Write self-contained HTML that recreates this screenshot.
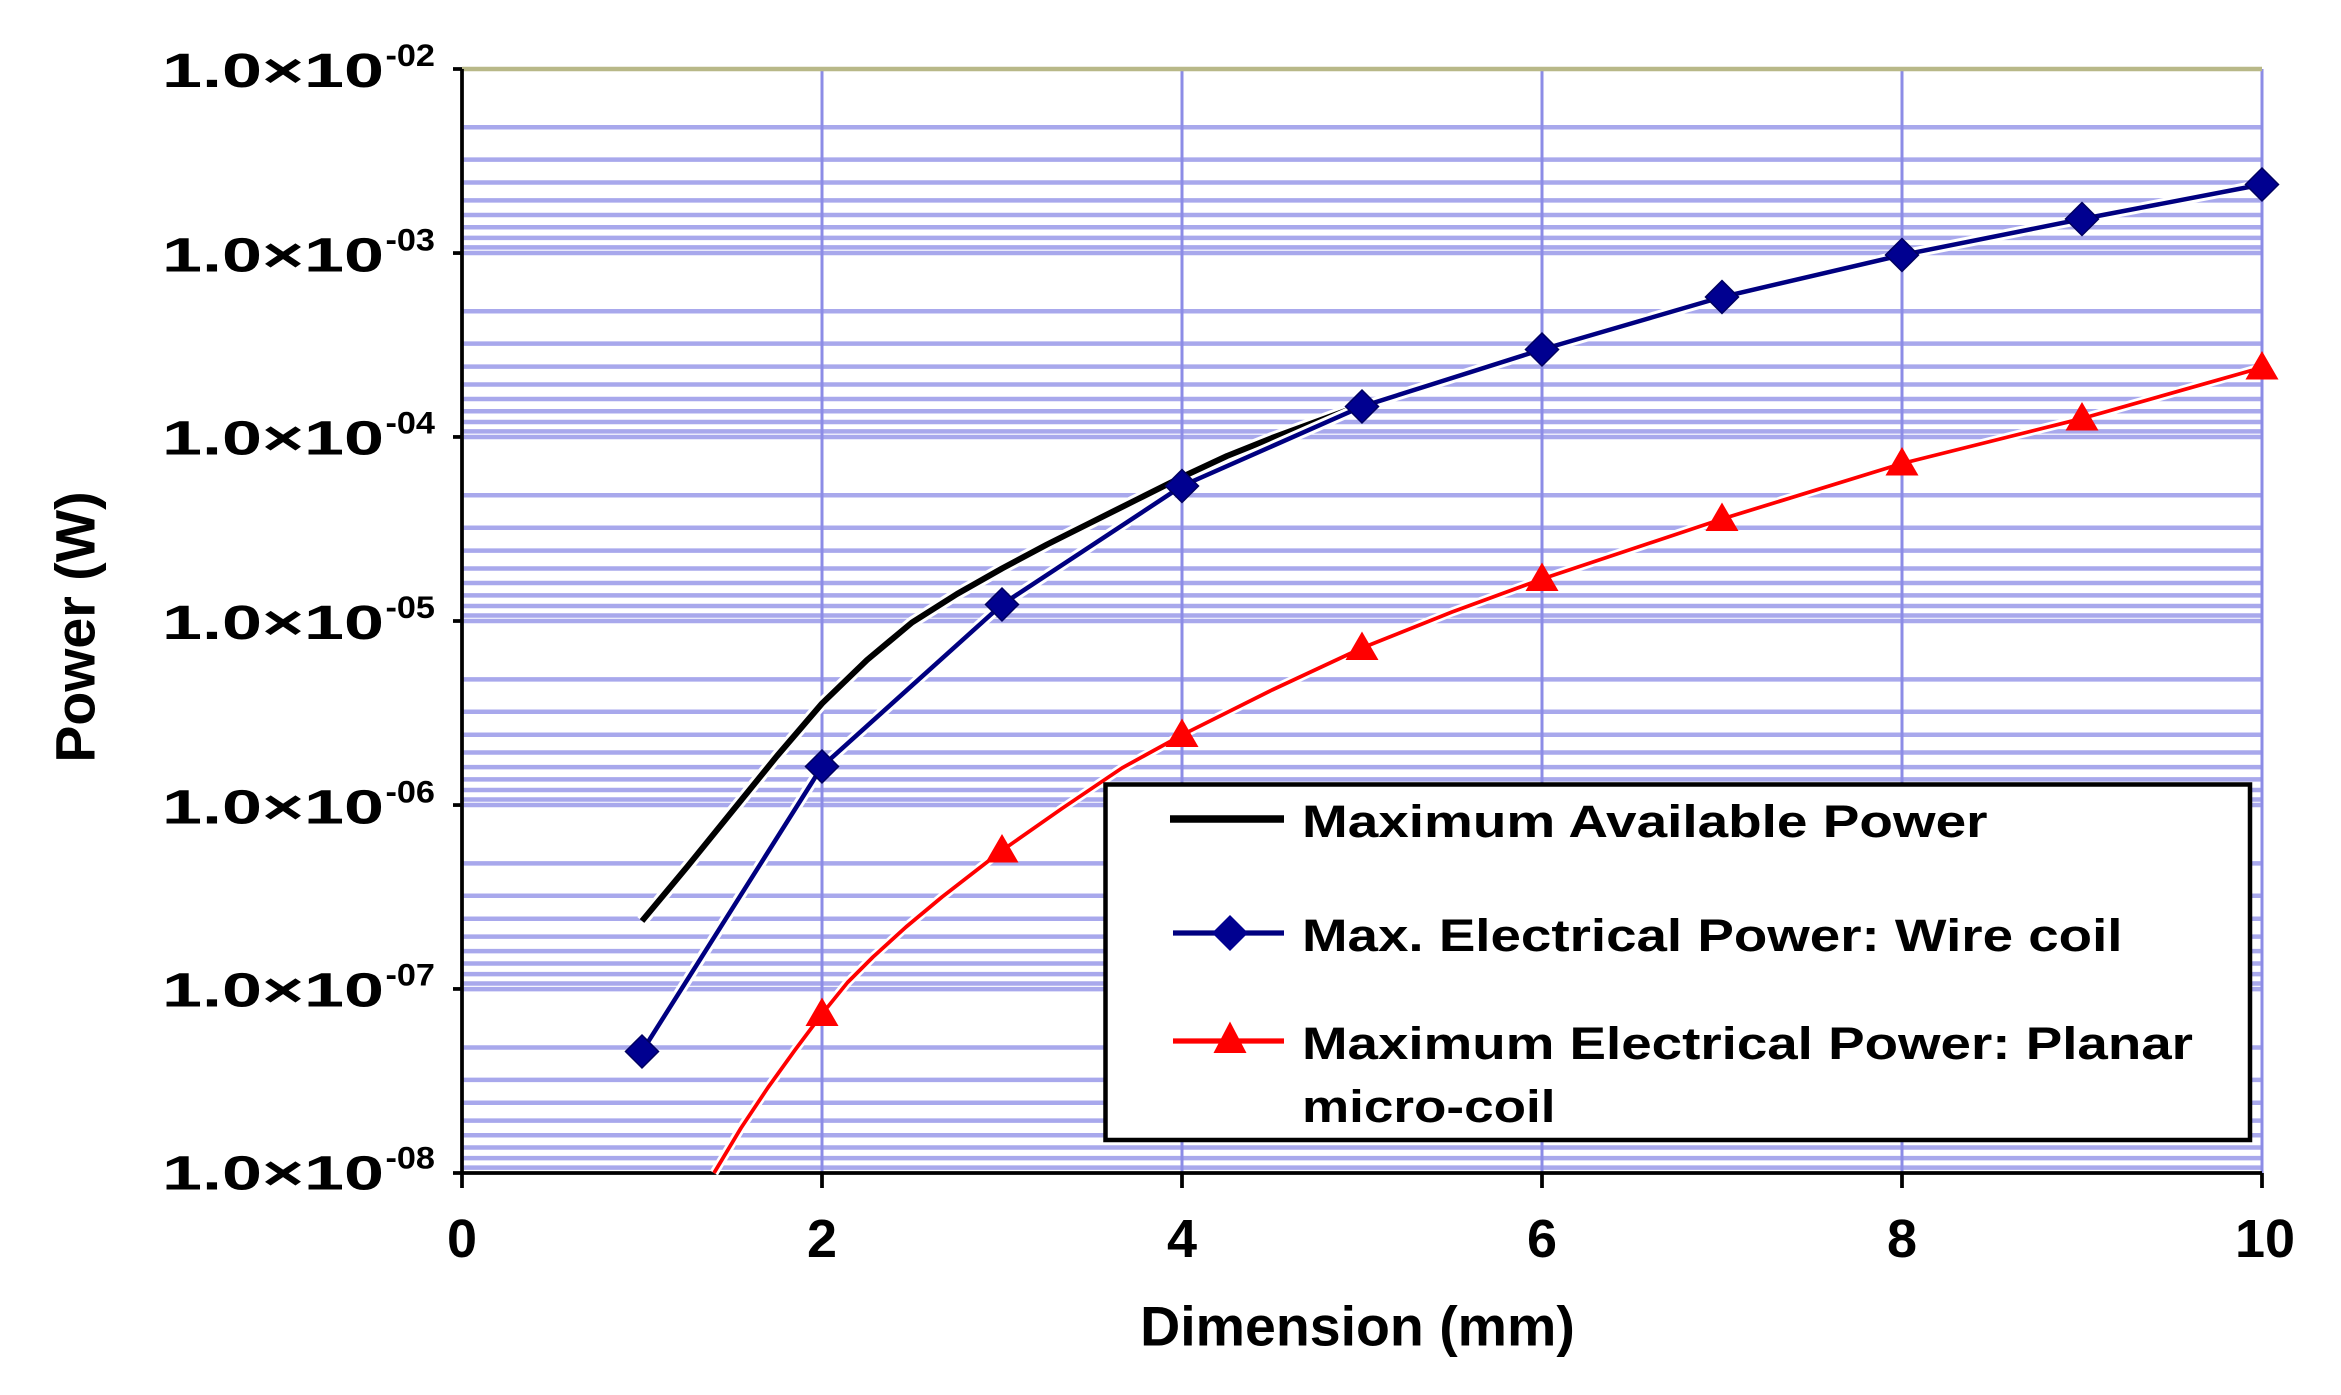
<!DOCTYPE html>
<html><head><meta charset="utf-8"><style>html,body{margin:0;padding:0;background:#fff;}svg{display:block;}</style></head>
<body>
<svg width="2341" height="1395" viewBox="0 0 1560.67 930" xmlns="http://www.w3.org/2000/svg" font-family="Liberation Sans, sans-serif" font-weight="bold">
<rect width="1560.67" height="930" fill="#fff"/>
<g id="grid" stroke="#a8a8ec" stroke-width="3">
<line x1="308" y1="84.8" x2="1508" y2="84.8"/><line x1="308" y1="106.4" x2="1508" y2="106.4"/><line x1="308" y1="121.7" x2="1508" y2="121.7"/><line x1="308" y1="133.6" x2="1508" y2="133.6"/><line x1="308" y1="143.3" x2="1508" y2="143.3"/><line x1="308" y1="151.5" x2="1508" y2="151.5"/><line x1="308" y1="158.6" x2="1508" y2="158.6"/><line x1="308" y1="164.9" x2="1508" y2="164.9"/><line x1="308" y1="168.7" x2="1508" y2="168.7"/>
<line x1="308" y1="207.5" x2="1508" y2="207.5"/><line x1="308" y1="229.1" x2="1508" y2="229.1"/><line x1="308" y1="244.4" x2="1508" y2="244.4"/><line x1="308" y1="256.3" x2="1508" y2="256.3"/><line x1="308" y1="266.0" x2="1508" y2="266.0"/><line x1="308" y1="274.2" x2="1508" y2="274.2"/><line x1="308" y1="281.3" x2="1508" y2="281.3"/><line x1="308" y1="287.6" x2="1508" y2="287.6"/><line x1="308" y1="291.3" x2="1508" y2="291.3"/>
<line x1="308" y1="330.2" x2="1508" y2="330.2"/><line x1="308" y1="351.8" x2="1508" y2="351.8"/><line x1="308" y1="367.1" x2="1508" y2="367.1"/><line x1="308" y1="379.0" x2="1508" y2="379.0"/><line x1="308" y1="388.7" x2="1508" y2="388.7"/><line x1="308" y1="396.9" x2="1508" y2="396.9"/><line x1="308" y1="404.0" x2="1508" y2="404.0"/><line x1="308" y1="410.3" x2="1508" y2="410.3"/><line x1="308" y1="414.0" x2="1508" y2="414.0"/>
<line x1="308" y1="452.9" x2="1508" y2="452.9"/><line x1="308" y1="474.5" x2="1508" y2="474.5"/><line x1="308" y1="489.8" x2="1508" y2="489.8"/><line x1="308" y1="501.7" x2="1508" y2="501.7"/><line x1="308" y1="511.4" x2="1508" y2="511.4"/><line x1="308" y1="519.6" x2="1508" y2="519.6"/><line x1="308" y1="526.7" x2="1508" y2="526.7"/><line x1="308" y1="533.0" x2="1508" y2="533.0"/><line x1="308" y1="536.7" x2="1508" y2="536.7"/>
<line x1="308" y1="575.6" x2="1508" y2="575.6"/><line x1="308" y1="597.2" x2="1508" y2="597.2"/><line x1="308" y1="612.5" x2="1508" y2="612.5"/><line x1="308" y1="624.4" x2="1508" y2="624.4"/><line x1="308" y1="634.1" x2="1508" y2="634.1"/><line x1="308" y1="642.3" x2="1508" y2="642.3"/><line x1="308" y1="649.4" x2="1508" y2="649.4"/><line x1="308" y1="655.7" x2="1508" y2="655.7"/><line x1="308" y1="659.4" x2="1508" y2="659.4"/>
<line x1="308" y1="698.3" x2="1508" y2="698.3"/><line x1="308" y1="719.9" x2="1508" y2="719.9"/><line x1="308" y1="735.2" x2="1508" y2="735.2"/><line x1="308" y1="747.1" x2="1508" y2="747.1"/><line x1="308" y1="756.8" x2="1508" y2="756.8"/><line x1="308" y1="765.0" x2="1508" y2="765.0"/><line x1="308" y1="772.1" x2="1508" y2="772.1"/><line x1="308" y1="778.4" x2="1508" y2="778.4"/>
</g>
<g stroke="#8c8ce6" stroke-width="2">
<line x1="548" y1="46" x2="548" y2="782"/><line x1="788" y1="46" x2="788" y2="782"/><line x1="1028" y1="46" x2="1028" y2="782"/><line x1="1268" y1="46" x2="1268" y2="782"/><line x1="1508" y1="46" x2="1508" y2="782"/>
</g>
<line x1="308" y1="46" x2="1508" y2="46" stroke="#b8b888" stroke-width="3"/>
<line x1="308" y1="46" x2="308" y2="782" stroke="#000" stroke-width="2.5"/>
<line x1="302" y1="782" x2="1508" y2="782" stroke="#000" stroke-width="2.5"/>
<g stroke="#000" stroke-width="2.5">
<line x1="302" y1="46" x2="308" y2="46"/><line x1="302" y1="168.7" x2="308" y2="168.7"/><line x1="302" y1="291.3" x2="308" y2="291.3"/><line x1="302" y1="414" x2="308" y2="414"/><line x1="302" y1="536.7" x2="308" y2="536.7"/><line x1="302" y1="659.3" x2="308" y2="659.3"/>
<line x1="308" y1="782" x2="308" y2="792"/><line x1="548" y1="782" x2="548" y2="792"/><line x1="788" y1="782" x2="788" y2="792"/><line x1="1028" y1="782" x2="1028" y2="792"/><line x1="1268" y1="782" x2="1268" y2="792"/><line x1="1508" y1="782" x2="1508" y2="792"/>
</g>
<!-- series -->
<polyline fill="none" stroke="#fff" stroke-width="8" stroke-linejoin="round" points="428,614 458,578 488,541 518,504 548,469 578,440 608,415 638,396 668,379 698,363 728,348 758,333 788,318 818,304 848,292 878,281 908,270"/>
<polyline fill="none" stroke="#000" stroke-width="4" stroke-linejoin="round" points="428,614 458,578 488,541 518,504 548,469 578,440 608,415 638,396 668,379 698,363 728,348 758,333 788,318 818,304 848,292 878,281 908,270"/>
<polyline fill="none" stroke="#fff" stroke-width="7" points="428,701 548,511 668,403 788,324 908,271 1028,233 1148,198 1268,170 1388,146 1508,123"/>
<polyline fill="none" stroke="#000080" stroke-width="3" points="428,701 548,511 668,403 788,324 908,271 1028,233 1148,198 1268,170 1388,146 1508,123"/>
<polyline fill="none" stroke="#fff" stroke-width="6" stroke-linejoin="round" points="476,782 494,752 512,725 530,700 548,676 565,655 582,638 604,618 628,598 668,567 708,539 748,512 788,490 848,460 908,432 968,408 1028,386 1148,346 1268,309 1388,279 1508,245"/>
<polyline fill="none" stroke="#ff0000" stroke-width="2.5" stroke-linejoin="round" points="476,782 494,752 512,725 530,700 548,676 565,655 582,638 604,618 628,598 668,567 708,539 748,512 788,490 848,460 908,432 968,408 1028,386 1148,346 1268,309 1388,279 1508,245"/>
<g fill="#000090" stroke="#000060" stroke-width="1">
<path d="M428,690 l11,11 -11,11 -11,-11z"/><path d="M548,500 l11,11 -11,11 -11,-11z"/><path d="M668,392 l11,11 -11,11 -11,-11z"/><path d="M788,313 l11,11 -11,11 -11,-11z"/><path d="M908,260 l11,11 -11,11 -11,-11z"/><path d="M1028,222 l11,11 -11,11 -11,-11z"/><path d="M1148,187 l11,11 -11,11 -11,-11z"/><path d="M1268,159 l11,11 -11,11 -11,-11z"/><path d="M1388,135 l11,11 -11,11 -11,-11z"/><path d="M1508,112 l11,11 -11,11 -11,-11z"/>
</g>
<g fill="#ff0000">
<path d="M548,665 l11,19 h-22z"/><path d="M668,556 l11,19 h-22z"/><path d="M788,479 l11,19 h-22z"/><path d="M908,421 l11,19 h-22z"/><path d="M1028,375 l11,19 h-22z"/><path d="M1148,335 l11,19 h-22z"/><path d="M1268,298 l11,19 h-22z"/><path d="M1388,268 l11,19 h-22z"/><path d="M1508,234 l11,19 h-22z"/>
</g>
<!-- legend -->
<rect x="737" y="523" width="763" height="237" fill="#fff" stroke="#000" stroke-width="3"/>
<line x1="780" y1="546" x2="856" y2="546" stroke="#000" stroke-width="5"/>
<line x1="782" y1="622" x2="856" y2="622" stroke="#000080" stroke-width="3.5"/>
<path d="M820,610 l12,12 -12,12 -12,-12z" fill="#000090"/>
<line x1="782" y1="694" x2="856" y2="694" stroke="#ff0000" stroke-width="3.5"/>
<path d="M820,681 l11,21 h-22z" fill="#ff0000"/>
<g font-size="30" fill="#000">
<text x="868" y="558" textLength="457" lengthAdjust="spacingAndGlyphs">Maximum Available Power</text>
<text x="868" y="634" textLength="547" lengthAdjust="spacingAndGlyphs">Max. Electrical Power: Wire coil</text>
<text x="868" y="706" textLength="594" lengthAdjust="spacingAndGlyphs">Maximum Electrical Power: Planar</text>
<text x="868" y="748" textLength="169" lengthAdjust="spacingAndGlyphs">micro-coil</text>
</g>
<!-- y labels -->
<g font-size="32" fill="#000">
<text x="108" y="58" textLength="148" lengthAdjust="spacingAndGlyphs">1.0×10</text><text x="257" y="44" font-size="21" textLength="33" lengthAdjust="spacingAndGlyphs">-02</text>
<text x="108" y="181" textLength="148" lengthAdjust="spacingAndGlyphs">1.0×10</text><text x="257" y="167" font-size="21" textLength="33" lengthAdjust="spacingAndGlyphs">-03</text>
<text x="108" y="303" textLength="148" lengthAdjust="spacingAndGlyphs">1.0×10</text><text x="257" y="289" font-size="21" textLength="33" lengthAdjust="spacingAndGlyphs">-04</text>
<text x="108" y="426" textLength="148" lengthAdjust="spacingAndGlyphs">1.0×10</text><text x="257" y="412" font-size="21" textLength="33" lengthAdjust="spacingAndGlyphs">-05</text>
<text x="108" y="549" textLength="148" lengthAdjust="spacingAndGlyphs">1.0×10</text><text x="257" y="535" font-size="21" textLength="33" lengthAdjust="spacingAndGlyphs">-06</text>
<text x="108" y="671" textLength="148" lengthAdjust="spacingAndGlyphs">1.0×10</text><text x="257" y="657" font-size="21" textLength="33" lengthAdjust="spacingAndGlyphs">-07</text>
<text x="108" y="793" textLength="148" lengthAdjust="spacingAndGlyphs">1.0×10</text><text x="257" y="779" font-size="21" textLength="33" lengthAdjust="spacingAndGlyphs">-08</text>
</g>
<g font-size="36" fill="#000" text-anchor="middle">
<text x="308" y="838">0</text><text x="548" y="838">2</text><text x="788" y="838">4</text><text x="1028" y="838">6</text><text x="1268" y="838">8</text><text x="1510" y="838">10</text>
</g>
<text x="905" y="897" font-size="37" text-anchor="middle" fill="#000">Dimension (mm)</text>
<text transform="translate(63,418) rotate(-90)" font-size="37" text-anchor="middle" fill="#000">Power (W)</text>
</svg>
</body></html>
